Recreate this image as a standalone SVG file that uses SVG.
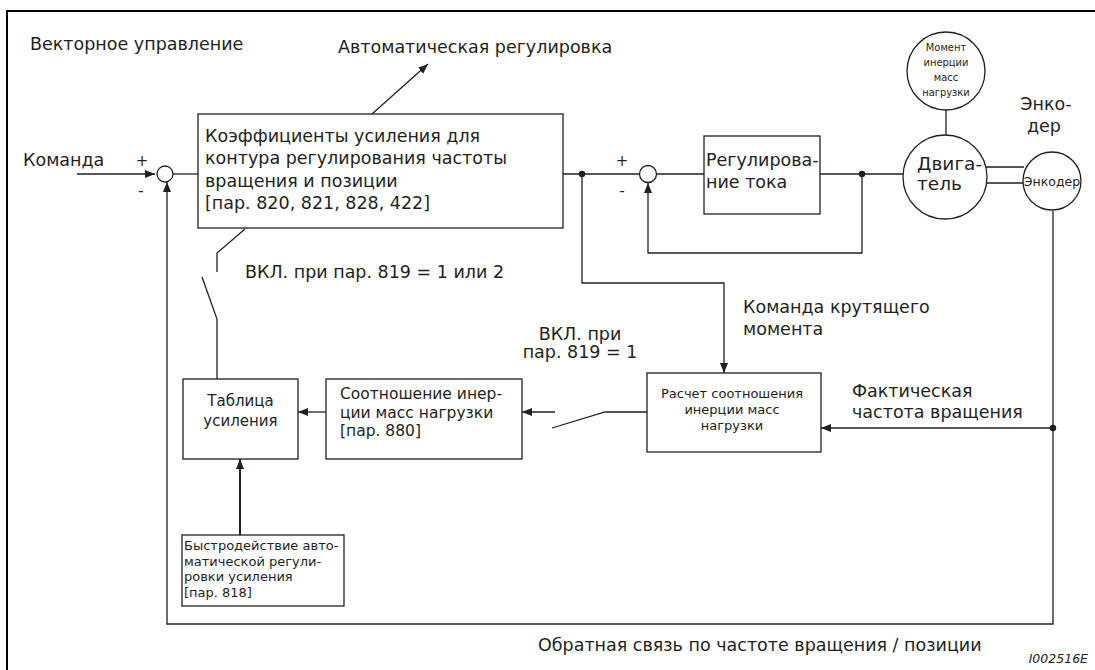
<svg xmlns="http://www.w3.org/2000/svg" width="1095" height="670" viewBox="0 0 1095 670">
<defs>
<marker id="ah" markerWidth="11" markerHeight="9" refX="10" refY="4" orient="auto" markerUnits="userSpaceOnUse"><path d="M0,0 L10,4 L0,8 z" fill="#231f20"/></marker>
<style>
.t{font-family:"DejaVu Sans","Liberation Sans",sans-serif;fill:#231f20}
.m{font-size:17.5px}
.s{font-size:15.5px}
.x{font-size:13px}
.c{font-family:"DejaVu Sans Condensed","DejaVu Sans",sans-serif;font-size:11px;fill:#231f20}
.box{fill:#fff;stroke:#231f20;stroke-width:1.3}
.ln{fill:none;stroke:#231f20;stroke-width:1.3}
.ar{fill:none;stroke:#231f20;stroke-width:1.3;marker-end:url(#ah)}
.dot{fill:#231f20}
</style>
</defs>
<rect width="1095" height="670" fill="#fff"/>
<path d="M7,670 V11 H1095" fill="none" stroke="#000" stroke-width="2"/>

<g id="connectors">
<path class="ar" d="M77,174 H155"/>
<path class="ln" d="M173,174 H198"/>
<path class="ar" d="M1053,211 V624 H167 V182"/>
<path class="ln" d="M563,174 H639"/>
<path class="ln" d="M657,174 H704"/>
<path class="ln" d="M820,174 H903"/>
<path class="ar" d="M862,174 V253 H648 V183"/>
<path class="ln" d="M946,110 V135"/>
<path class="ln" d="M986,167 H1024 M986,183 H1024"/>
<path class="ar" d="M372,114 L428,64"/>
<path class="ar" d="M582,174 V283 H724 V373"/>
<path class="ar" d="M1053,428 H821"/>
<path class="ln" d="M647,412 H605 L552,428"/>
<path class="ar" d="M555,412 H522"/>
<path class="ar" d="M326,412 H298"/>
<path class="ln" d="M245,229 L217,253 V272"/>
<path class="ln" d="M202,277 L217,319 V379"/>
<path class="ar" d="M240,535 V459" style="stroke-width:2"/>
<circle class="dot" cx="582" cy="174" r="3.2"/>
<circle class="dot" cx="862" cy="174" r="3.2"/>
<circle class="dot" cx="1053" cy="428" r="3.2"/>
</g>

<g id="title"><text class="t m" x="30" y="50">Векторное управление</text></g>
<g id="auto-label"><text class="t m" x="338" y="53">Автоматическая регулировка</text></g>
<g id="command-label"><text class="t m" x="23" y="166">Команда</text></g>

<g id="sum1">
<circle class="box" cx="165" cy="174" r="8"/>
<text class="t" style="font-size:15px" x="142" y="166" text-anchor="middle">+</text>
<text class="t" style="font-size:15px" x="141" y="196" text-anchor="middle">-</text>
</g>

<g id="gain-box">
<rect class="box" x="198" y="114" width="365" height="114"/>
<text class="t m" x="205" y="142">Коэффициенты усиления для</text>
<text class="t m" x="205" y="164">контура регулирования частоты</text>
<text class="t m" x="205" y="187">вращения и позиции</text>
<text class="t m" x="205" y="209">[пар. 820, 821, 828, 422]</text>
</g>

<g id="sum2">
<circle class="box" cx="648" cy="174" r="8.5"/>
<text class="t" style="font-size:15px" x="622" y="166" text-anchor="middle">+</text>
<text class="t" style="font-size:15px" x="622" y="196" text-anchor="middle">-</text>
</g>

<g id="current-box">
<rect class="box" x="704" y="136" width="116" height="78"/>
<text class="t m" x="706" y="166">Регулирова-</text>
<text class="t m" x="706" y="188">ние тока</text>
</g>

<g id="inertia-circle">
<circle class="box" cx="946" cy="71" r="39"/>
<text class="c" x="946" y="51" text-anchor="middle">Момент</text>
<text class="c" x="946" y="66" text-anchor="middle">инерции</text>
<text class="c" x="946" y="81" text-anchor="middle">масс</text>
<text class="c" x="946" y="96" text-anchor="middle">нагрузки</text>
</g>

<g id="motor">
<circle class="box" cx="945" cy="177" r="42"/>
<text class="t" style="font-size:18.5px" x="917" y="170">Двига-</text>
<text class="t" style="font-size:18.5px" x="917" y="190">тель</text>
</g>

<g id="encoder">
<circle class="box" cx="1052" cy="181" r="29"/>
<text class="t" style="font-size:12.5px" x="1052" y="186" text-anchor="middle">Энкодер</text>
</g>
<g id="encoder-label">
<text class="t m" x="1046" y="110" text-anchor="middle">Энко-</text>
<text class="t m" x="1044" y="132" text-anchor="middle">дер</text>
</g>

<g id="switch1-label"><text class="t m" x="245" y="278">ВКЛ. при пар. 819 = 1 или 2</text></g>
<g id="torque-label">
<text class="t m" x="743" y="313">Команда крутящего</text>
<text class="t m" x="743" y="335">момента</text>
</g>
<g id="switch2-label">
<text class="t m" x="580" y="340" text-anchor="middle">ВКЛ. при</text>
<text class="t m" x="580" y="358" text-anchor="middle">пар. 819 = 1</text>
</g>
<g id="speed-label">
<text class="t m" x="852" y="397">Фактическая</text>
<text class="t m" x="852" y="418">частота вращения</text>
</g>

<g id="gain-table">
<rect class="box" x="183" y="379" width="115" height="80"/>
<text class="t" style="font-size:15px" x="240.5" y="406" text-anchor="middle">Таблица</text>
<text class="t" style="font-size:15px" x="240.5" y="426" text-anchor="middle">усиления</text>
</g>

<g id="ratio-box">
<rect class="box" x="326" y="379" width="196" height="80"/>
<text class="t s" x="340" y="399">Соотношение инер-</text>
<text class="t s" x="340" y="417.5">ции масс нагрузки</text>
<text class="t s" x="340" y="436">[пар. 880]</text>
</g>

<g id="calc-box">
<rect class="box" x="647" y="373" width="174" height="79"/>
<text class="t x" x="732" y="398" text-anchor="middle">Расчет соотношения</text>
<text class="t x" x="732" y="414" text-anchor="middle">инерции масс</text>
<text class="t x" x="732" y="430" text-anchor="middle">нагрузки</text>
</g>

<g id="response-box">
<rect class="box" x="182" y="535" width="162" height="71"/>
<text class="t x" x="184" y="550">Быстродействие авто-</text>
<text class="t x" x="184" y="566">матической регули-</text>
<text class="t x" x="184" y="581">ровки усиления</text>
<text class="t x" x="184" y="597">[пар. 818]</text>
</g>

<g id="feedback-label"><text class="t m" x="538" y="651">Обратная связь по частоте вращения / позиции</text></g>
<g id="figure-id"><text class="t" style="font-size:12.5px;font-style:italic" x="1088" y="663" text-anchor="end">I002516E</text></g>
</svg>
